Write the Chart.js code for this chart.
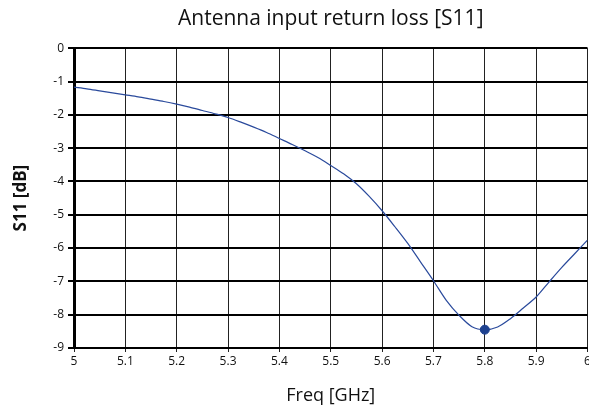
<!DOCTYPE html>
<html>
<head>
<meta charset="utf-8">
<script src="https://cdn.jsdelivr.net/npm/chart.js@4.4.1/dist/chart.umd.min.js"></script>
<style>
html,body{margin:0;padding:0;background:#fff;overflow:hidden;}
#wrap{width:593px;height:407px;}
</style>
</head>
<body>
<div id="wrap"><canvas id="c" width="593" height="407"></canvas></div>
<script>
const freqs = [5.000,5.025,5.050,5.075,5.100,5.125,5.150,5.175,5.200,5.225,5.250,5.275,5.300,5.325,5.350,5.375,5.400,5.425,5.450,5.475,5.500,5.525,5.550,5.575,5.600,5.625,5.650,5.675,5.700,5.725,5.750,5.775,5.800,5.825,5.850,5.875,5.900,5.925,5.950,5.975,6.000];
const s11 = [-1.17,-1.22,-1.28,-1.34,-1.40,-1.46,-1.53,-1.60,-1.68,-1.77,-1.87,-1.97,-2.08,-2.22,-2.37,-2.53,-2.71,-2.89,-3.08,-3.28,-3.52,-3.77,-4.07,-4.45,-4.88,-5.36,-5.86,-6.42,-6.98,-7.57,-8.02,-8.36,-8.45,-8.37,-8.12,-7.80,-7.47,-7.02,-6.58,-6.17,-5.76];
const markerFreq = [5.8];
const markerValue = [-8.45];
const titleText = 'Antenna input return loss [S11]';
const xTitle = 'Freq [GHz]';
const yTitle = 'S11 [dB]';

const FONT = '"Open Sans", "Noto Sans", sans-serif';
new Chart(document.getElementById('c'), {
  type: 'scatter',
  data: {
    datasets: [
      {
        data: freqs.map((f, i) => ({x: f, y: s11[i]})),
        showLine: true,
        borderColor: '#2a4a9c',
        borderWidth: 1.2,
        pointRadius: 0,
        tension: 0.3,
        order: 2
      },
      {
        data: markerFreq.map((f, i) => ({x: f, y: markerValue[i]})),
        showLine: false,
        pointRadius: 4.5,
        backgroundColor: '#1f4290',
        borderColor: '#1f4290',
        order: 1
      }
    ]
  },
  options: {
    responsive: false,
    animation: false,
    devicePixelRatio: 1,
    layout: {padding: {left: 0, right: 0, top: 0, bottom: 0}},
    plugins: {
      legend: {display: false},
      tooltip: {enabled: false},
      title: {
        display: true,
        fullSize: false,
        text: titleText,
        color: '#111',
        font: {family: FONT, size: 21, weight: 'normal'},
        padding: {top: 6, bottom: 17}
      }
    },
    scales: {
      x: {
        type: 'linear',
        min: 5, max: 6,
        ticks: {
          stepSize: 0.1,
          color: '#111',
          font: {family: FONT, size: 12},
          padding: 2,
          callback: v => String(parseFloat(Number(v).toFixed(1)))
        },
        grid: {color: '#222', lineWidth: 1, tickLength: 4, drawTicks: true},
        border: {color: '#000', width: 2},
        title: {display: true, text: xTitle, color: '#111', font: {family: FONT, size: 18}, padding: {top: 10, bottom: 0}},
        afterFit: s => { s.height = 59; }
      },
      y: {
        type: 'linear',
        min: -9, max: 0,
        ticks: {
          stepSize: 1,
          color: '#111',
          font: {family: FONT, size: 12},
          padding: 4
        },
        grid: {color: '#000', lineWidth: 2, tickLength: 6, drawTicks: true},
        border: {color: '#000', width: 3},
        title: {display: true, text: yTitle, color: '#111', font: {family: FONT, size: 17, weight: 'bold'}, padding: {top: 11, bottom: 0}},
        afterFit: s => { s.width = 74; }
      }
    }
  }
});
</script>
</body>
</html>
